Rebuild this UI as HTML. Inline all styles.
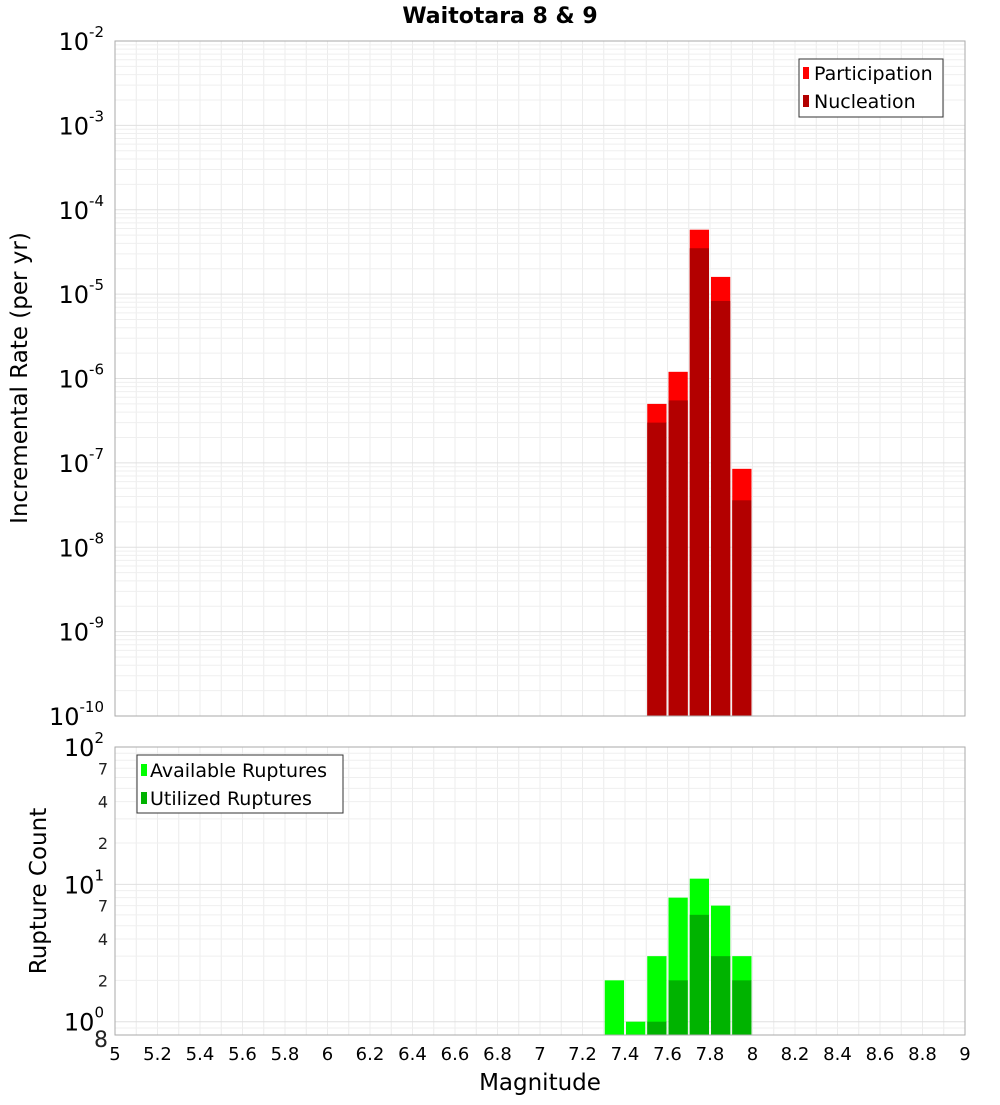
<!DOCTYPE html>
<html><head><meta charset="utf-8"><style>
body{margin:0;background:#fff;font-family:"Liberation Sans","DejaVu Sans",sans-serif}
svg text{font-family:"DejaVu Sans","Liberation Sans",sans-serif}
</style></head><body>
<svg id="c" width="1000" height="1100" xmlns="http://www.w3.org/2000/svg">
<text x="500" y="23" text-anchor="middle" font-size="22" font-weight="bold">Waitotara 8 &amp; 9</text>
<g id="gtop"></g>
<g id="gbot"></g>
<text transform="translate(27,378) rotate(-90)" text-anchor="middle" font-size="23">Incremental Rate (per yr)</text>
<text transform="translate(46,891) rotate(-90)" text-anchor="middle" font-size="23">Rupture Count</text>
<text x="540" y="1090" text-anchor="middle" font-size="23">Magnitude</text>
<g id="legends"></g>
</svg>
<script>
const mags=[7.55,7.65,7.75,7.85,7.95];
const participation=[5e-7,1.2e-6,5.8e-5,1.6e-5,8.5e-8];
const nucleation=[3e-7,5.5e-7,3.5e-5,8.3e-6,3.6e-8];
const countMags=[7.35,7.45,7.55,7.65,7.75,7.85,7.95];
const available=[2,1,3,8,11,7,3];
const utilized=[0,0,1,2,6,3,2];
const xTicks=[5,5.2,5.4,5.6,5.8,6,6.2,6.4,6.6,6.8,7,7.2,7.4,7.6,7.8,8,8.2,8.4,8.6,8.8,9];
(function(){
const NS="http://www.w3.org/2000/svg";
const L=115,R=965,T1=41,B1=716,T2=747,B2=1035;
const X=m=>L+(m-5)/4*(R-L);
const Y1=v=>T1+(-2-Math.log10(v))/8*(B1-T1);
const C_MIN=0.8;
const Y2=v=>T2+(2-Math.log10(v))/(2-Math.log10(C_MIN))*(B2-T2);
function mk(p,tag,a,txt){const e=document.createElementNS(NS,tag);for(const k in a)e.setAttribute(k,a[k]);if(txt!==undefined)e.textContent=txt;p.appendChild(e);return e;}
const gTop=document.getElementById('gtop'),gBot=document.getElementById('gbot');
for(const [g,T,B] of [[gTop,T1,B1],[gBot,T2,B2]]){
  for(let i=0;i<=40;i++){const x=X(5+i*0.1);const gl=mk(g,'line',{x1:x,x2:x,y1:T,y2:B,stroke:'#ececec','stroke-width':1});
  
  }
}
for(let e=-10;e<-2;e++)for(let k=1;k<10;k++){const y=Y1(k*Math.pow(10,e));const gl=mk(gTop,'line',{x1:L,x2:R,y1:y,y2:y,stroke:k==1?'#e0e0e0':'#efefef'});

}
for(let e=-1;e<2;e++)for(let k=1;k<10;k++){const v=k*Math.pow(10,e);if(v<C_MIN)continue;const y=Y2(v);const gl=mk(gBot,'line',{x1:L,x2:R,y1:y,y2:y,stroke:k==1?'#e0e0e0':'#efefef'});

}
const w=(R-L)/40;
mags.forEach((m,i)=>{const x=X(m)-w/2+1;
 const b=mk(gTop,'rect',{x:x,y:Y1(participation[i]),width:w-2,height:B1-Y1(participation[i]),fill:'#ff0000'});
 
 
 const n=mk(gTop,'rect',{x:x,y:Y1(nucleation[i]),width:w-2,height:B1-Y1(nucleation[i]),fill:'#b30000'});
 
 });
countMags.forEach((m,i)=>{const x=X(m)-w/2+1;
 const b=mk(gBot,'rect',{x:x,y:Y2(available[i]),width:w-2,height:B2-Y2(available[i]),fill:'#00ff00'});
 
 
 if(utilized[i]>0){const n=mk(gBot,'rect',{x:x,y:Y2(utilized[i]),width:w-2,height:B2-Y2(utilized[i]),fill:'#00b300'});
 
 }});
mk(gTop,'rect',{x:L,y:T1,width:R-L,height:B1-T1,fill:'none',stroke:'#aaa'});
mk(gBot,'rect',{x:L,y:T2,width:R-L,height:B2-T2,fill:'none',stroke:'#aaa'});
for(let e=-10;e<=-2;e++){const y=Y1(Math.pow(10,e));const t=mk(gTop,'text',{x:104,y:y+9,'text-anchor':'end','font-size':24});
 
 
 t.textContent='10';mk(t,'tspan',{dy:-13,'font-size':15},String(e));}
for(let e=0;e<=2;e++){const y=Y2(Math.pow(10,e));const t=mk(gBot,'text',{x:104,y:y+9,'text-anchor':'end','font-size':24});
 
 
 t.textContent='10';mk(t,'tspan',{dy:-13,'font-size':15},String(e));}
[2,4,7,20,40,70,0.8].forEach(v=>{const y=Y2(v);const t=mk(gBot,'text',{x:108,y:v==0.8?y+12:y+6,'text-anchor':'end','font-size':v==0.8?22:16,fill:'#222'},String(v==0.8?8:(v>=10?v/10:v)));
 
 });
xTicks.forEach(m=>{const t=mk(gBot,'text',{x:X(m),y:1060,'text-anchor':'middle','font-size':18},String(m));
 
 });
const lg=document.getElementById('legends');
const l1=mk(lg,'g',{});


mk(l1,'rect',{x:799,y:59,width:144,height:58,fill:'#fff',stroke:'#333'});
mk(l1,'rect',{x:803,y:67,width:6,height:12,fill:'#ff0000'});
mk(l1,'text',{x:814,y:80,'font-size':19},'Participation');
mk(l1,'rect',{x:803,y:95,width:6,height:12,fill:'#b30000'});
mk(l1,'text',{x:814,y:108,'font-size':19},'Nucleation');
const l2=mk(lg,'g',{});


mk(l2,'rect',{x:137,y:755,width:206,height:58,fill:'#fff',stroke:'#333'});
mk(l2,'rect',{x:141,y:764,width:6,height:12,fill:'#00ff00'});
mk(l2,'text',{x:150,y:777,'font-size':19},'Available Ruptures');
mk(l2,'rect',{x:141,y:792,width:6,height:12,fill:'#00b300'});
mk(l2,'text',{x:150,y:805,'font-size':19},'Utilized Ruptures');
})();
</script>
</body></html>
